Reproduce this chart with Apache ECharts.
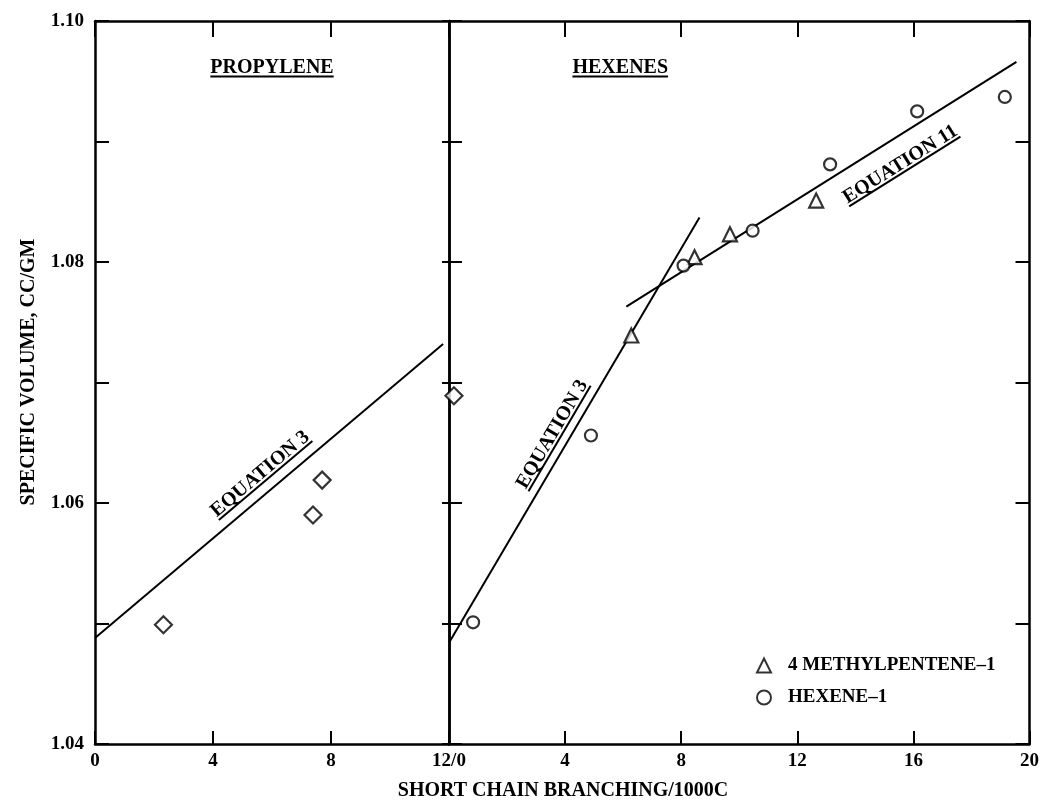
<!DOCTYPE html>
<html><head><meta charset="utf-8">
<script src="https://cdn.jsdelivr.net/npm/echarts@6/dist/echarts.min.js"></script>
<style>html,body{margin:0;padding:0;background:#fff}#c{width:1042px;height:803px}</style>
</head><body><div id="c"></div>
<script>
// ---------- data ----------
const propyleneDiamonds = [[2.32, 1.0499], [7.39, 1.0590], [7.70, 1.0619]];
const hexenePanelDiamond = [[0.17, 1.0689]];
const propyleneEq3 = [[0, 1.0488], [11.8, 1.0732]];
const hexeneEq3 = [[0, 1.0484], [8.63, 1.0837]];
const hexeneEq11 = [[6.11, 1.0763], [19.55, 1.0966]];
const methylpentene1 = [[6.28, 1.0739], [8.46, 1.0804], [9.68, 1.0823], [12.65, 1.0851]];
const hexene1 = [[0.83, 1.0501], [4.89, 1.0656], [8.08, 1.0797], [10.46, 1.0826], [13.13, 1.0881], [16.13, 1.0925], [19.15, 1.0937]];
const seriesNames = ['4 METHYLPENTENE\u20131', 'HEXENE\u20131'];
const yTickLabels = ['1.04', '1.06', '1.08', '1.10'];
const panelTitles = ['PROPYLENE', 'HEXENES'];
const eqLabels = ['EQUATION 3', 'EQUATION 3', 'EQUATION 11'];
const xTitle = 'SHORT CHAIN BRANCHING/1000C';
const yTitle = 'SPECIFIC VOLUME, CC/GM';

// ---------- styling ----------
const FONT = '"Liberation Serif","Times New Roman",serif';
const BLACK = '#000';
const axisLine = { show: true, onZero: false, lineStyle: { color: BLACK, width: 2.5 } };
const tickStyle = { color: BLACK, width: 2 };
const labelStyle = { color: BLACK, fontFamily: FONT, fontWeight: 'bold', fontSize: 19 };

function yLabel(v) {
  const s = v.toFixed(2);
  return yTickLabels.indexOf(s) >= 0 ? s : '';
}
function baseX(grid, max, pos, showLabels, tickLen, fmt) {
  return {
    gridIndex: grid, type: 'value', min: 0, max: max, interval: 4, position: pos,
    axisLine: axisLine,
    axisTick: { show: true, inside: true, length: tickLen, lineStyle: tickStyle },
    axisLabel: Object.assign({ show: showLabels, margin: 8, formatter: fmt }, labelStyle),
    splitLine: { show: false }
  };
}
function baseY(grid, pos, showLabels, tickLen) {
  return {
    gridIndex: grid, type: 'value', min: 1.04, max: 1.10, interval: 0.01, position: pos,
    axisLine: axisLine,
    axisTick: { show: true, inside: true, length: tickLen, lineStyle: tickStyle },
    axisLabel: Object.assign({ show: showLabels, margin: 11, formatter: yLabel }, labelStyle),
    splitLine: { show: false }
  };
}
const hollow = { color: '#fff', borderColor: BLACK, borderWidth: 2.2 };
const lineSer = (data, xi, yi) => ({
  type: 'line', data: data, xAxisIndex: xi, yAxisIndex: yi, showSymbol: false, symbol: 'none',
  lineStyle: { color: BLACK, width: 2 }, silent: true, z: 2
});

const chart = echarts.init(document.getElementById('c'), null, { renderer: 'canvas' });
chart.setOption({
  animation: false,
  backgroundColor: '#fff',
  grid: [
    { left: 95, top: 21, width: 354, height: 723 },
    { left: 449, top: 21, width: 584, height: 723 }
  ],
  xAxis: [
    baseX(0, 12, 'bottom', true, 13, v => v === 12 ? '12/0' : String(v)),
    baseX(1, 20, 'bottom', true, 13, v => v === 0 ? '' : String(v)),
    baseX(0, 12, 'top', false, 16, v => String(v)),
    baseX(1, 20, 'top', false, 16, v => String(v))
  ],
  yAxis: [
    baseY(0, 'left', true, 14),
    baseY(0, 'right', false, 7),
    baseY(1, 'left', false, 13),
    baseY(1, 'right', false, 14)
  ],
  legend: {
    data: seriesNames, orient: 'vertical', left: 751, top: 651,
    itemWidth: 14, itemHeight: 14, itemGap: 13,
    textStyle: Object.assign({ padding: [0, 0, 0, 12] }, labelStyle)
  },
  series: [
    lineSer(propyleneEq3, 0, 0),
    lineSer(hexeneEq3, 1, 2),
    lineSer(hexeneEq11, 1, 2),
    { type: 'scatter', name: 'PROPYLENE', data: propyleneDiamonds, xAxisIndex: 0, yAxisIndex: 0,
      symbol: 'diamond', symbolSize: 17, itemStyle: hollow, z: 3 },
    { type: 'scatter', name: 'PROPYLENE2', data: hexenePanelDiamond, xAxisIndex: 1, yAxisIndex: 2,
      symbol: 'diamond', symbolSize: 17, itemStyle: hollow, z: 3 },
    { type: 'scatter', name: seriesNames[0], data: methylpentene1, xAxisIndex: 1, yAxisIndex: 2,
      symbol: 'triangle', symbolSize: 14, itemStyle: hollow, z: 3 },
    { type: 'scatter', name: seriesNames[1], data: hexene1, xAxisIndex: 1, yAxisIndex: 2,
      symbol: 'circle', symbolSize: 12, itemStyle: hollow, z: 3 }
  ]
});

// ---------- annotations (positioned through the chart's own scales) ----------
const ctx = document.createElement('canvas').getContext('2d');
function textWidth(t, size) { ctx.font = 'bold ' + size + 'px "Liberation Serif"'; return ctx.measureText(t).width; }
function px(finder, p) { return chart.convertToPixel(finder, p); }
const G0 = { xAxisIndex: 0, yAxisIndex: 0 };
const G1 = { xAxisIndex: 1, yAxisIndex: 2 };
function angleOf(finder, line) {
  const a = px(finder, line[0]), b = px(finder, line[1]);
  return Math.atan2(a[1] - b[1], b[0] - a[0]);
}
function underlined(text, pos, rot, size) {
  const w = textWidth(text, size);
  const h = size * 0.42;
  return {
    type: 'group', x: pos[0], y: pos[1], rotation: rot, z: 10,
    children: [
      { type: 'text', style: { text: text, x: 0, y: 0, fill: BLACK,
          font: 'bold ' + size + 'px ' + FONT, textAlign: 'center', align: 'center',
          textVerticalAlign: 'middle', verticalAlign: 'middle' } },
      { type: 'line', shape: { x1: -w / 2, y1: h, x2: w / 2, y2: h }, style: { stroke: BLACK, lineWidth: 2 } }
    ]
  };
}
function plain(text, pos, rot, size) {
  return { type: 'text', x: pos[0], y: pos[1], rotation: rot, z: 10,
    style: { text: text, fill: BLACK, font: 'bold ' + size + 'px ' + FONT,
      textAlign: 'center', align: 'center', textVerticalAlign: 'middle', verticalAlign: 'middle' } };
}
const graphics = [
  underlined(panelTitles[0], px(G0, [6.0, 1.0961]), 0, 20),
  underlined(panelTitles[1], px(G1, [5.9, 1.0961]), 0, 20),
  underlined(eqLabels[0], px(G0, [5.6, 1.0624]), angleOf(G0, propyleneEq3), 20),
  underlined(eqLabels[1], px(G1, [3.56, 1.0657]), angleOf(G1, hexeneEq3), 20),
  underlined(eqLabels[2], px(G1, [15.55, 1.0881]), angleOf(G1, hexeneEq11), 20),
  plain(yTitle, [29, 372], Math.PI / 2, 20),
  plain(xTitle, [563, 791], 0, 20)
];
chart.setOption({ graphic: graphics });
</script>
</body></html>
